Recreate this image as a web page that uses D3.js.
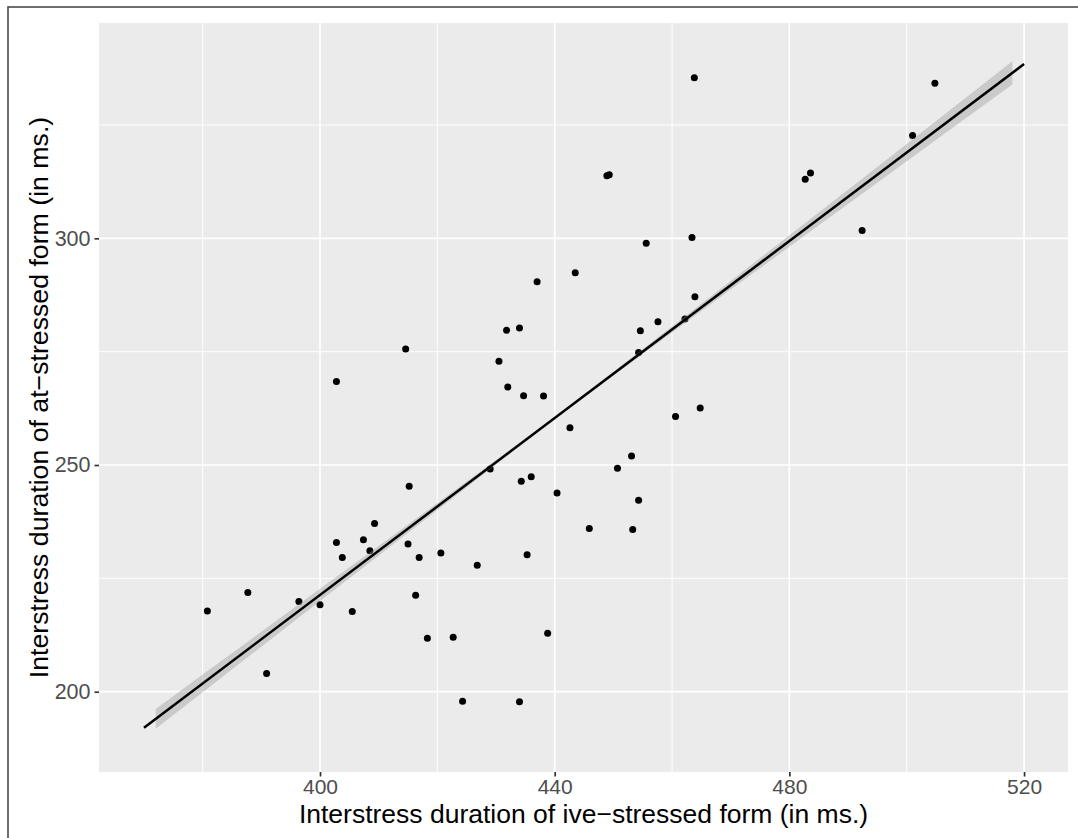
<!DOCTYPE html>
<html>
<head>
<meta charset="utf-8">
<script src="https://cdn.jsdelivr.net/npm/d3@7"></script>
<style>
  html, body { margin: 0; padding: 0; background: #ffffff; }
  svg { display: block; }
  text { font-family: "Liberation Sans", Arial, Helvetica, sans-serif; }
</style>
</head>
<body>
<svg id="chart" width="1078" height="838"></svg>
<script>
// ---- data ----
const ptX = [414.6, 402.8, 415.2, 409.3, 402.8, 407.4, 403.8, 408.5, 415.0, 416.9,
             420.6, 416.3, 418.3, 405.5, 400.0, 396.4, 387.7, 380.8, 390.9,
             431.8, 434.0, 430.5, 432.0, 434.7, 438.1, 442.6, 454.6, 457.6, 454.3,
             462.2, 460.6, 464.8, 429.0, 434.3, 436.0, 440.4, 450.7, 453.1, 454.3,
             445.9, 453.3, 426.8, 435.3, 422.7, 438.8, 424.3, 434.0,
             448.9, 449.3, 455.6, 463.4, 443.5, 437.0, 463.9,
             463.8, 504.8, 501.0, 483.6, 482.7, 492.4];
const ptY = [275.6, 268.4, 245.3, 237.1, 232.9, 233.5, 229.6, 231.1, 232.6, 229.6,
             230.6, 221.3, 211.8, 217.7, 219.2, 219.9, 221.9, 217.8, 204.0,
             279.7, 280.2, 272.9, 267.2, 265.3, 265.2, 258.2, 279.6, 281.6, 274.8,
             282.2, 260.7, 262.6, 249.1, 246.4, 247.4, 243.8, 249.3, 252.0, 242.2,
             236.0, 235.8, 227.9, 230.2, 212.0, 212.9, 197.9, 197.8,
             313.8, 314.0, 298.9, 300.2, 292.4, 290.4, 287.1,
             335.4, 334.2, 322.7, 314.4, 313.0, 301.7];

// fitted line (endpoints)
const fitX = [370, 520];
const fitY = [192.06, 338.44];

// confidence band half-width (y units) at these x positions
const bandX    = [372, 380, 390, 400, 410, 420, 430, 440, 450, 460, 470, 480, 490, 500, 510, 518];
const bandHalf = [2.2, 1.95, 1.65, 1.35, 1.05, 0.76, 0.5, 0.35, 0.43, 0.67, 0.95, 1.25, 1.57, 1.9, 2.25, 2.55];

const xMajor = [400, 440, 480, 520];
const xMinor = [380, 420, 460, 500];
const yMajor = [200, 250, 300];
const yMinor = [225, 275, 325];

const xTitle = "Interstress duration of ive\u2212stressed form (in ms.)";
const yTitle = "Interstress duration of at\u2212stressed form (in ms.)";

// ---- layout ----
const svg = d3.select("#chart");
const P = { left: 99, right: 1068, top: 23, bottom: 772 };

const x = d3.scaleLinear().domain([362.33, 527.49]).range([P.left, P.right]);
const y = d3.scaleLinear().domain([182.29, 347.49]).range([P.bottom, P.top]);

// outer border
svg.append("rect")
  .attr("x", 8).attr("y", 7).attr("width", 1090).attr("height", 850)
  .attr("fill", "#ffffff").attr("stroke", "#4a4a4a").attr("stroke-width", 1.6);

// panel
svg.append("rect")
  .attr("x", P.left).attr("y", P.top)
  .attr("width", P.right - P.left).attr("height", P.bottom - P.top)
  .attr("fill", "#EBEBEB");

const grid = svg.append("g");
grid.selectAll(".xmin").data(xMinor).join("line")
  .attr("x1", d => x(d)).attr("x2", d => x(d)).attr("y1", P.top).attr("y2", P.bottom)
  .attr("stroke", "#ffffff").attr("stroke-width", 1.0);
grid.selectAll(".ymin").data(yMinor).join("line")
  .attr("y1", d => y(d)).attr("y2", d => y(d)).attr("x1", P.left).attr("x2", P.right)
  .attr("stroke", "#ffffff").attr("stroke-width", 1.0);
grid.selectAll(".xmaj").data(xMajor).join("line")
  .attr("x1", d => x(d)).attr("x2", d => x(d)).attr("y1", P.top).attr("y2", P.bottom)
  .attr("stroke", "#ffffff").attr("stroke-width", 1.7);
grid.selectAll(".ymaj").data(yMajor).join("line")
  .attr("y1", d => y(d)).attr("y2", d => y(d)).attr("x1", P.left).attr("x2", P.right)
  .attr("stroke", "#ffffff").attr("stroke-width", 1.7);

// points
const pts = ptX.map((v, i) => ({ x: v, y: ptY[i] }));
svg.append("g").selectAll("circle").data(pts).join("circle")
  .attr("cx", d => x(d.x)).attr("cy", d => y(d.y)).attr("r", 3.5)
  .attr("fill", "#000000");

// confidence band
const fitAt = v => fitY[0] + (v - fitX[0]) * (fitY[1] - fitY[0]) / (fitX[1] - fitX[0]);
const band = bandX.map((v, i) => ({ x: v, lo: fitAt(v) - bandHalf[i], hi: fitAt(v) + bandHalf[i] }));
svg.append("path").datum(band)
  .attr("d", d3.area().x(d => x(d.x)).y0(d => y(d.lo)).y1(d => y(d.hi)))
  .attr("fill", "#999999").attr("fill-opacity", 0.4);

// fitted line
svg.append("path").datum(fitX.map((v, i) => [v, fitY[i]]))
  .attr("d", d3.line().x(d => x(d[0])).y(d => y(d[1])))
  .attr("fill", "none").attr("stroke", "#000000").attr("stroke-width", 2.5);

// axes
const xAxis = d3.axisBottom(x).tickValues(xMajor).tickSize(4.5).tickPadding(3).tickFormat(d3.format("d"));
const gx = svg.append("g").attr("transform", `translate(0,${P.bottom})`).call(xAxis);
gx.select(".domain").remove();
gx.selectAll(".tick line").attr("stroke", "#333333").attr("stroke-width", 1.7);
gx.selectAll(".tick text").attr("fill", "#4D4D4D").attr("font-size", 21)
  .attr("font-family", "'Liberation Sans', Arial, sans-serif");

const yAxis = d3.axisLeft(y).tickValues(yMajor).tickSize(4.5).tickPadding(4).tickFormat(d3.format("d"));
const gy = svg.append("g").attr("transform", `translate(${P.left},0)`).call(yAxis);
gy.select(".domain").remove();
gy.selectAll(".tick line").attr("stroke", "#333333").attr("stroke-width", 1.7);
gy.selectAll(".tick text").attr("fill", "#4D4D4D").attr("font-size", 21.5)
  .attr("font-family", "'Liberation Sans', Arial, sans-serif");

// titles
svg.append("text")
  .attr("x", (P.left + P.right) / 2).attr("y", 823)
  .attr("text-anchor", "middle").attr("font-size", 26.5).attr("fill", "#000000")
  .text(xTitle);
svg.append("text")
  .attr("transform", `translate(48,${(P.top + P.bottom) / 2}) rotate(-90)`)
  .attr("text-anchor", "middle").attr("font-size", 26.7).attr("fill", "#000000")
  .text(yTitle);
</script>
</body>
</html>
